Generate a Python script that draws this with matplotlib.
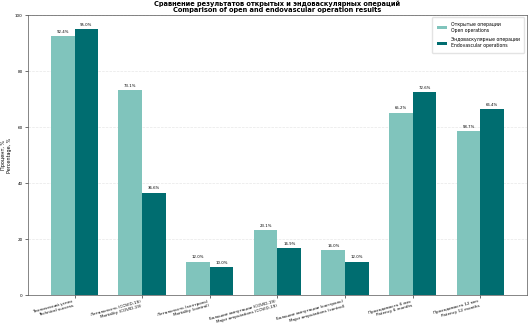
import numpy as np
import matplotlib
matplotlib.use("Agg")
from matplotlib import pyplot as plt

# data
categories = [
    "Технический успех\nTechnical success",
    "Летальность (COVID-19)\nMortality (COVID-19)",
    "Летальность (контроль)\nMortality (control)",
    "Большие ампутации (COVID-19)\nMajor amputations (COVID-19)",
    "Большие ампутации (контроль)\nMajor amputations (control)",
    "Проходимость 6 мес\nPatency 6 months",
    "Проходимость 12 мес\nPatency 12 months",
]
open_ops = [92.4, 73.1, 12.0, 23.1, 16.0, 65.2, 58.7]
endo_ops = [95.0, 36.6, 10.0, 16.9, 12.0, 72.6, 66.4]

plt.rcParams["font.family"] = ["DejaVu Sans"]

fig = plt.figure(figsize=(5.32, 3.28), dpi=100)
ax = fig.add_axes([0.053, 0.10, 0.937, 0.854])

x = np.arange(len(categories))
w = 0.35
b1 = ax.bar(x - w/2, open_ops, w, color="#80c4bc",
            label="Открытые операции\nOpen operations")
b2 = ax.bar(x + w/2, endo_ops, w, color="#006d70",
            label="Эндоваскулярные операции\nEndovascular operations")

for bars in (b1, b2):
    for b in bars:
        ax.text(b.get_x() + b.get_width()/2, b.get_height() + 0.8,
                f"{b.get_height():.1f}%", ha="center", va="bottom", fontsize=2.8)

ax.set_ylim(0, 100)
ax.set_yticks([0, 20, 40, 60, 80, 100])
ax.tick_params(axis="y", labelsize=3, length=2, width=0.4, pad=2)
ax.tick_params(axis="x", labelsize=3, length=2, width=0.4, pad=1)
ax.set_xticks(x)
ax.set_xticklabels(categories, rotation=15, ha="right")
ax.set_ylabel("Процент, %\nPercentage, %", fontsize=3.5, labelpad=2)
ax.set_title("Сравнение результатов открытых и эндоваскулярных операций\n"
             "Comparison of open and endovascular operation results",
             fontsize=4.8, fontweight="bold", pad=2, linespacing=1.1)
ax.grid(axis="y", linestyle="--", alpha=0.3, linewidth=0.5)
ax.set_axisbelow(True)
for s in ax.spines.values():
    s.set_linewidth(0.5)
    s.set_color("#555555")
ax.legend(loc="upper right", fontsize=3.3, frameon=True, framealpha=0.8,
          edgecolor="#dddddd", handlelength=2.2, borderpad=1.0, labelspacing=1.0)

fig.savefig("out.png", dpi=100)
